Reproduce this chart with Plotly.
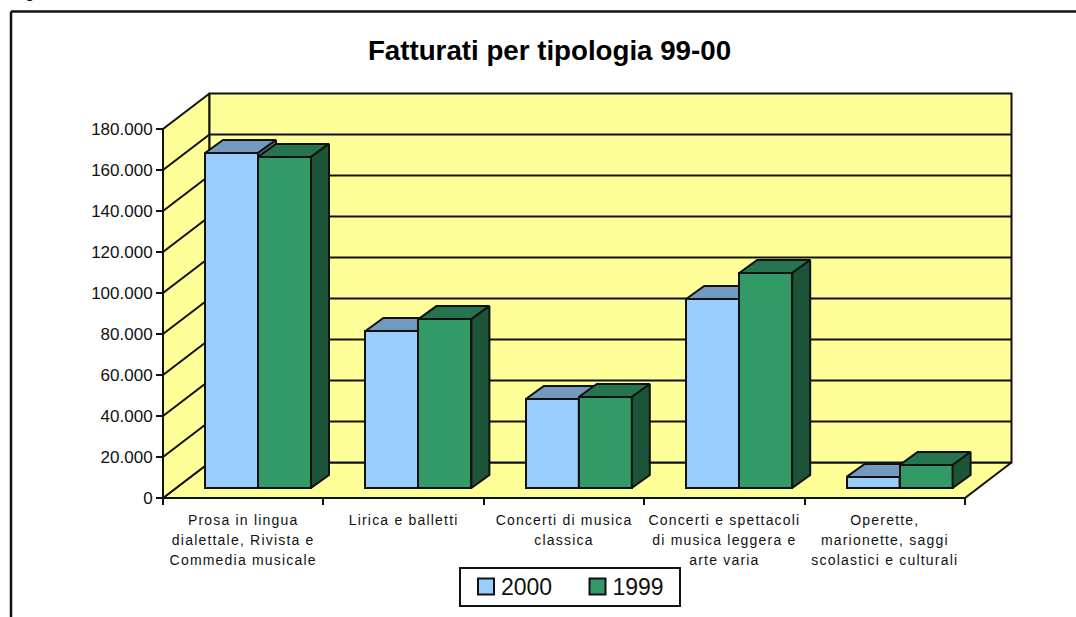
import plotly.graph_objects as go

categories = ["Prosa in lingua<br>dialettale, Rivista e<br>Commedia musicale",
              "Lirica e balletti",
              "Concerti di musica<br>classica",
              "Concerti e spettacoli<br>di musica leggera e<br>arte varia",
              "Operette,<br>marionette, saggi<br>scolastici e culturali"]
values_2000 = [163400, 76600, 43400, 92200, 5400]
values_1999 = [161500, 82400, 44400, 104900, 11200]
y_ticks = [0, 20000, 40000, 60000, 80000, 100000, 120000, 140000, 160000, 180000]
title = "Fatturati per tipologia 99-00"
cropped_caption = "Fig"

W, H = 1076, 617
X0, CAT_PX = 163.0, 160.4          # front-plane origin, px per category
Y0, VAL_PX = 498.0, 41.0 / 20000   # px per value
xr = [(0 - X0) / CAT_PX, (W - X0) / CAT_PX]
yr = [(Y0 - H) / VAL_PX, Y0 / VAL_PX]

DX, DY = 46.5 / CAT_PX, 35.5 / VAL_PX      # full depth of the floor
BAR_DX, BAR_DY = 18.0 / CAT_PX, 13.0 / VAL_PX
START_DY = 10.0 / VAL_PX
BAR_W = 53.0 / CAT_PX
BAR_X = 42.0 / CAT_PX
YMAX, NCAT = y_ticks[-1], len(categories)
LINE = dict(color="#111111", width=2)
WALL = "#FFFF99"


def poly(xs, ys, fill, axes=("x", "y")):
    return go.Scatter(x=xs + xs[:1], y=ys + ys[:1], mode="lines", fill="toself", fillcolor=fill,
                      line=LINE, showlegend=False, hoverinfo="skip", xaxis=axes[0], yaxis=axes[1])


def seg(xs, ys):
    return go.Scatter(x=xs, y=ys, mode="lines", line=LINE, showlegend=False, hoverinfo="skip")


traces = [
    poly([0, NCAT, NCAT + DX, DX], [0, 0, DY, DY], WALL),
    poly([0, DX, DX, 0], [0, DY, YMAX + DY, YMAX], WALL),
    poly([DX, NCAT + DX, NCAT + DX, DX], [DY, DY, YMAX + DY, YMAX + DY], WALL),
]
for t in y_ticks[1:-1]:
    traces.append(seg([0, DX, NCAT + DX], [t, t + DY, t + DY]))


def series(values, name, front, top, side, slot, axes):
    out = []
    xs = [i + BAR_X + slot * BAR_W for i in range(NCAT)]
    out.append(go.Bar(x=[a + BAR_W / 2 for a in xs], y=values, base=START_DY, width=BAR_W, name=name,
                      marker=dict(color=front, line=LINE), xaxis=axes[0], yaxis=axes[1], hoverinfo="skip"))
    for a, v in zip(xs, values):
        t = START_DY + v
        out.append(poly([a, a + BAR_W, a + BAR_W + BAR_DX, a + BAR_DX], [t, t, t + BAR_DY, t + BAR_DY], top, axes))
        out.append(poly([a + BAR_W, a + BAR_W + BAR_DX, a + BAR_W + BAR_DX, a + BAR_W],
                        [START_DY, START_DY + BAR_DY, t + BAR_DY, t], side, axes))
    return out


traces += series(values_2000, "2000", "#99CCFF", "#7399BF", "#54708C", 0, ("x2", "y2"))
traces += series(values_1999, "1999", "#339966", "#267350", "#1C5438", 1, ("x3", "y3"))

fig = go.Figure(traces)
hidden = dict(visible=False, fixedrange=True)
fig.update_layout(
    width=W, height=H, margin=dict(l=0, r=0, t=0, b=0, pad=0), autosize=False,
    paper_bgcolor="white", plot_bgcolor="rgba(0,0,0,0)", separators=",.",
    barmode="overlay", bargap=0,
    font=dict(family="Liberation Sans, Arial, sans-serif", color="#111111"),
    title=dict(text="<b>%s</b>" % title, font=dict(size=27.7, color="#000000"), x=549.5 / W, xanchor="center",
               y=1 - 50 / H, yanchor="middle"),
    xaxis=dict(domain=[0, 1], range=xr, anchor="free", position=(H - Y0) / H, showgrid=False, zeroline=False,
               tickvals=[i + 0.5 for i in range(NCAT)], ticktext=categories, ticks="", ticklen=0,
               tickfont=dict(size=14), showline=False, ticklabelstandoff=12,
               minor=dict(tickvals=list(range(NCAT + 1)), ticks="outside", ticklen=6, tickwidth=2, tickcolor="#111111")),
    yaxis=dict(domain=[0, 1], range=yr, anchor="free", position=X0 / W, showgrid=False, zeroline=False,
               tickvals=y_ticks, tickformat=",d", ticks="outside", ticklen=7, tickwidth=2, tickcolor="#111111",
               tickfont=dict(size=17), showline=False),
    xaxis2=dict(overlaying="x", range=xr, anchor="y2", **hidden),
    yaxis2=dict(overlaying="y", range=yr, anchor="x2", **hidden),
    xaxis3=dict(overlaying="x", range=xr, anchor="y3", **hidden),
    yaxis3=dict(overlaying="y", range=yr, anchor="x3", **hidden),
    legend=dict(orientation="h", x=459 / W, y=1 - 567 / H, xanchor="left", yanchor="top",
                bgcolor="white", bordercolor="#111111", borderwidth=2, font=dict(size=23),
                entrywidth=66.5, entrywidthmode="pixels", traceorder="normal",
                itemclick=False, itemdoubleclick=False),
    annotations=[dict(text=cropped_caption, xref="paper", yref="paper", x=10 / W, y=1 - 2.5 / H, xanchor="left",
                      yanchor="bottom", showarrow=False, font=dict(size=16, color="#111111"))],
    shapes=[dict(type="line", xref="paper", yref="paper", x0=11 / W, x1=1.01, y0=1 - 11.5 / H, y1=1 - 11.5 / H,
                 line=dict(color="#111111", width=2.5), layer="below"),
            dict(type="line", xref="paper", yref="paper", x0=11 / W, x1=11 / W, y0=-0.05, y1=1 - 11.5 / H,
                 line=dict(color="#111111", width=2.5), layer="below")],
)
post = """
document.body.style.margin='0';
function tweak(){
  document.querySelectorAll('.xtick text').forEach(function(t){
    t.style.letterSpacing='1.2px';
    t.querySelectorAll('tspan.line').forEach(function(s,i){ if(i>0) s.setAttribute('dy',(i*20)+'px'); });
  });
  document.querySelectorAll('.legend .legendpoints path').forEach(function(p){
    p.setAttribute('d','M8,8H-8V-8H8Z');
    p.setAttribute('transform','translate(25,0)');
  });
  var bg=document.querySelector('.legend rect.bg');
  if(bg){ bg.setAttribute('width','220'); bg.setAttribute('height','38'); }
  var sb=document.querySelector('.legend .scrollbox');
  if(sb){ sb.setAttribute('transform','translate(0,-4)'); }
}
tweak();
var gd=document.getElementById('{plot_id}');
if(gd.on){ gd.on('plotly_afterplot',tweak); }
setTimeout(tweak,0); setTimeout(tweak,100);
"""
fig.write_html("out.html", post_script=post, config=dict(displayModeBar=False))
